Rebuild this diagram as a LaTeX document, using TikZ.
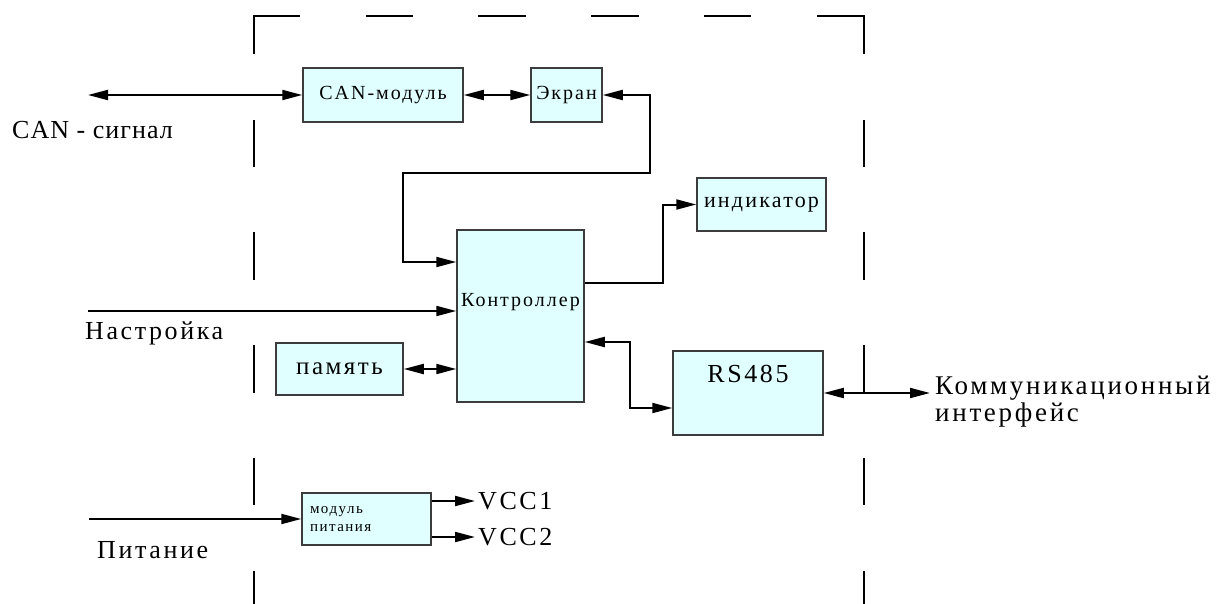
\documentclass[tikz,border=0pt]{standalone}
\usepackage{fontspec}
\setmainfont{Liberation Serif}[LetterSpace=10]
\usetikzlibrary{arrows.meta}
\definecolor{boxfill}{RGB}{224,255,255}
\definecolor{boxline}{RGB}{60,60,60}

\begin{document}
\begin{tikzpicture}[
    x=1pt, y=-1pt,
    blk/.style={rectangle,draw=boxline,fill=boxfill,line width=1.5pt,inner sep=0pt},
    lbl/.style={inner sep=0pt,font=\fontsize{26}{27}\selectfont},
    arr/.style={-{Triangle[length=20pt,width=10pt]},line width=2pt},
    dbl/.style={{Triangle[length=20pt,width=10pt]}-{Triangle[length=20pt,width=10pt]},line width=2pt},
    dashframe/.style={line width=2.5pt,line cap=rect,dash pattern=on 45pt off 67.8pt}
  ]
    \useasboundingbox (0,0) rectangle (1221,603);
    % dashed device border
    \draw[dashframe,dash phase=8pt] (254,16) -- (254,603);
    \draw[dashframe] (254,16) -- (864,16);
    \draw[dashframe,dash phase=8pt] (864,16) -- (864,603);

    \node[blk,minimum width=160,minimum height=54,font=\fontsize{20}{22}\selectfont] (canmod) at (383,95) {CAN-модуль};
    \node[blk,minimum width=71,minimum height=54,font=\fontsize{20}{22}\selectfont] (ekran) at (566.5,95) {Экран};
    \node[blk,minimum width=127,minimum height=172,
      label={[font=\fontsize{20}{22}\selectfont,yshift=14pt]center:Контроллер}] (ctrl) at (520.5,316) {};
    \node[blk,minimum width=129,minimum height=53,font=\fontsize{22}{24}\selectfont] (indik) at (761.5,204.5) {индикатор};
    \node[blk,minimum width=150,minimum height=84,
      label={[font=\fontsize{26}{27}\selectfont,yshift=19pt]center:RS485}] (rs) at (748,393) {};
    \node[blk,minimum width=127,minimum height=52,font=\fontsize{25}{27}\selectfont] (pamyat) at (339.5,369) {память};
    \node[blk,minimum width=129,minimum height=52,inner xsep=8pt,text width=113pt,align=left,
      font=\fontsize{15}{18}\selectfont] (pitmod) at (366.5,519) {модуль\\питания};

    \node[lbl,anchor=west,font=\fontsize{26}{27}\selectfont\addfontfeatures{LetterSpace=4}] (cansig) at (12,130) {CAN - сигнал};
    \node[lbl,anchor=west] (nastr) at (85,333) {Настройка};
    \node[lbl,anchor=west] (pitan) at (97,550) {Питание};
    \node[lbl,anchor=north west,align=left,font=\fontsize{27}{27}\selectfont] (komm) at (935,376) {Коммуникационный\\интерфейс};
    \node[lbl,anchor=west] (vcc1) at (478,501) {VCC1};
    \node[lbl,anchor=west] (vcc2) at (478,537) {VCC2};

    \coordinate (canL) at (88,95);
    \coordinate (nastL) at (88,311);
    \coordinate (pitL) at (89,519);
    \coordinate (kommL) at (930,393);

    \draw[dbl] (canL) -- (canmod.west);
    \draw[dbl] (canmod) -- (ekran);
    \draw[dbl] (ekran.east) -- ++(47,0) |- (403,173) |- ([yshift=54pt]ctrl.west);
    \draw[arr] (nastL) -- (nastL -| ctrl.west);
    \draw[dbl] (pamyat.east) -- (pamyat.east -| ctrl.west);
    \draw[arr] ([yshift=33pt]ctrl.east) -- ++(78,0) |- (indik.west);
    \draw[dbl] ([yshift=-26pt]ctrl.east) -- ++(45,0) |- ([yshift=-15pt]rs.west);
    \draw[dbl] (rs.east) -- (kommL);
    \draw[arr] (pitL) -- (pitmod.west);
    \draw[arr,shorten >=3pt] ([yshift=18pt]pitmod.east) -- (vcc1.west);
    \draw[arr,shorten >=3pt] ([yshift=-18pt]pitmod.east) -- (vcc2.west);
  \end{tikzpicture}
\end{document}
